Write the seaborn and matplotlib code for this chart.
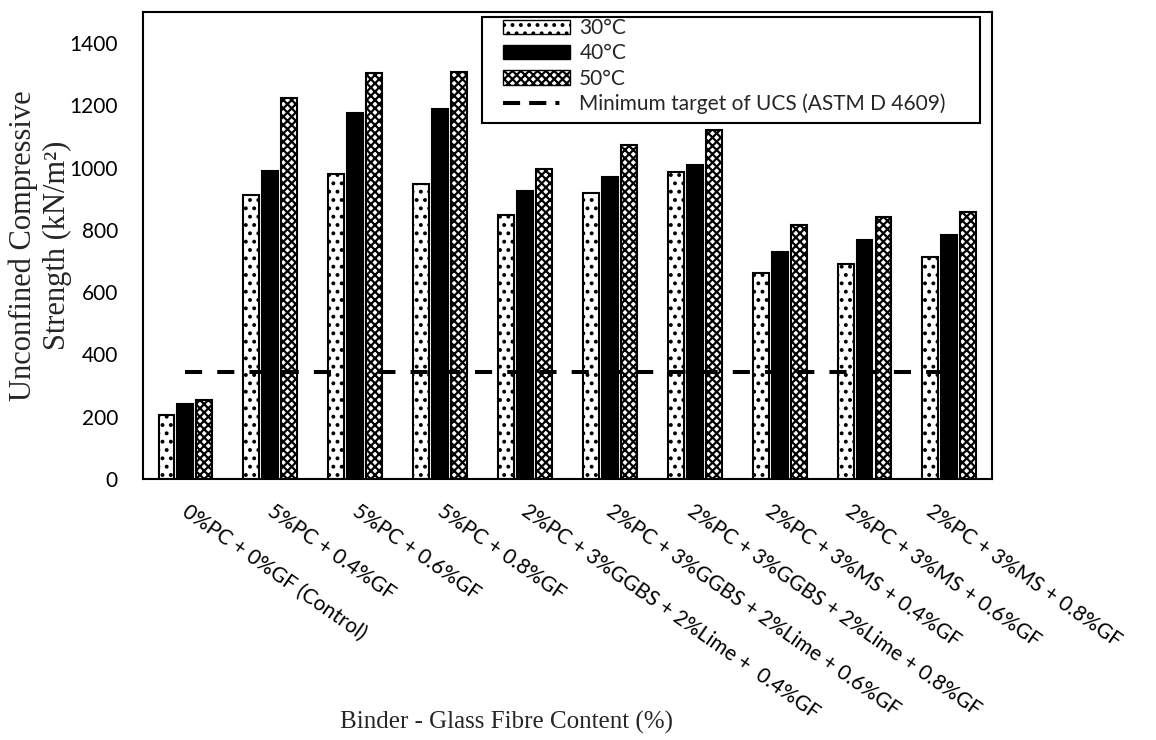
import matplotlib
matplotlib.use("Agg")
import matplotlib.pyplot as plt
from matplotlib.lines import Line2D
from matplotlib.patches import Patch, Rectangle
from matplotlib.transforms import ScaledTranslation
import pandas as pd
import seaborn as sns

# UCS of the stabilised mixes after curing at three temperatures (kN/m2)
mixes = [
    "0%PC + 0%GF (Control)",
    "5%PC + 0.4%GF",
    "5%PC + 0.6%GF",
    "5%PC + 0.8%GF",
    "2%PC + 3%GGBS + 2%Lime +  0.4%GF",
    "2%PC + 3%GGBS + 2%Lime + 0.6%GF",
    "2%PC + 3%GGBS + 2%Lime + 0.8%GF",
    "2%PC + 3%MS + 0.4%GF",
    "2%PC + 3%MS + 0.6%GF",
    "2%PC + 3%MS + 0.8%GF",
]
temps = ["30°C", "40°C", "50°C"]
ucs_30 = [205, 913, 981, 946, 847, 919, 985, 663, 692, 714]
ucs_40 = [241, 989, 1175, 1187, 926, 971, 1007, 728, 769, 785]
ucs_50 = [253, 1223, 1305, 1307, 995, 1072, 1122, 816, 842, 859]
target_ucs = 345
target_label = "Minimum target of UCS (ASTM D 4609)"

df = pd.DataFrame({
    "mix": mixes * 3,
    "temp": [t for t in temps for _ in mixes],
    "ucs": ucs_30 + ucs_40 + ucs_50,
})

sns.set_style("white")
plt.rcParams["font.family"] = ["Lato", "DejaVu Sans"]
plt.rcParams["hatch.linewidth"] = 1.6

fig = plt.figure(figsize=(11.56, 7.4), dpi=100)
ax = fig.add_axes([0.1237, 0.3527, 0.7343, 0.6311])

sns.barplot(data=df, x="mix", y="ucs", hue="temp", order=mixes, hue_order=temps,
            palette=["white", "black", "white"], saturation=1, width=0.67, gap=0.16,
            edgecolor="black", linewidth=1.5, errorbar=None, legend=False, ax=ax)

# patterns like the original: dots, solid, cross hatch
hatches = ["..", None, "xxxx"]
for cont, h in zip(ax.containers, hatches):
    for bar in cont:
        if h:
            bar.set_hatch(h)

# target line from first to last group
ax.plot([0, len(mixes) - 1], [target_ucs, target_ucs], color="black", lw=2.9,
        dashes=(4.25, 3.75), zorder=3)

ax.set_xlim(-0.5, len(mixes) - 0.5)
ax.set_ylim(0, 1500)
ax.set_yticks(range(0, 1401, 200))
ax.set_xticks(range(len(mixes)))
ax.set_xticklabels(mixes, rotation=-35, ha="left", va="top", rotation_mode="anchor")
ax.tick_params(axis="y", direction="in", length=5.5, width=1, pad=18, labelsize=15, colors="black")
ax.tick_params(axis="x", length=0, pad=16, labelsize=15, colors="black")

# excel squeezes the last labels a little to the left
label_shift = [5, 5, 5, 5, 4, 4, 0, -6, -11, -15]
for lbl, dx in zip(ax.get_xticklabels(), label_shift):
    lbl.set_transform(lbl.get_transform() + ScaledTranslation(dx / 100, 0, fig.dpi_scale_trans))

for sp in ax.spines.values():
    sp.set_visible(True)
    sp.set_color("black")
    sp.set_linewidth(1.5)

ax.set_xlabel("")
ax.set_ylabel("Unconfined Compressive\nStrength (kN/m²)", family="Liberation Serif",
              fontsize=22, linespacing=1.2)
ax.yaxis.set_label_coords(-0.084, 0.5)
fig.text(507 / 1156, 1 - 722 / 740, "Binder - Glass Fibre Content (%)", ha="center",
         va="center", family="Liberation Serif", fontsize=18)

handles = [
    Patch(facecolor="white", edgecolor="black", hatch="..", label=temps[0]),
    Patch(facecolor="black", edgecolor="black", label=temps[1]),
    Patch(facecolor="white", edgecolor="black", hatch="xxxx", label=temps[2]),
    Line2D([0], [0], color="black", lw=2.9, dashes=(4.25, 2.25, 4.25, 2.25, 1, 30),
           label=target_label),
]
leg = ax.legend(handles=handles, loc="upper left", frameon=False,
                bbox_to_anchor=(497 / 1156, 1 - 12 / 740),
                bbox_transform=fig.transFigure, borderaxespad=0, fontsize=15,
                handlelength=3.2, labelspacing=0.25, handletextpad=0.45, borderpad=0.3)

# legend box, wider than its contents as in the original
fig.patches.append(Rectangle((482 / 1156, 1 - 123 / 740), 498 / 1156, 106 / 740,
                             transform=fig.transFigure, fill=False, edgecolor="black",
                             linewidth=1.5, zorder=5))

fig.savefig("out.png", dpi=100)
plt.close("all")
